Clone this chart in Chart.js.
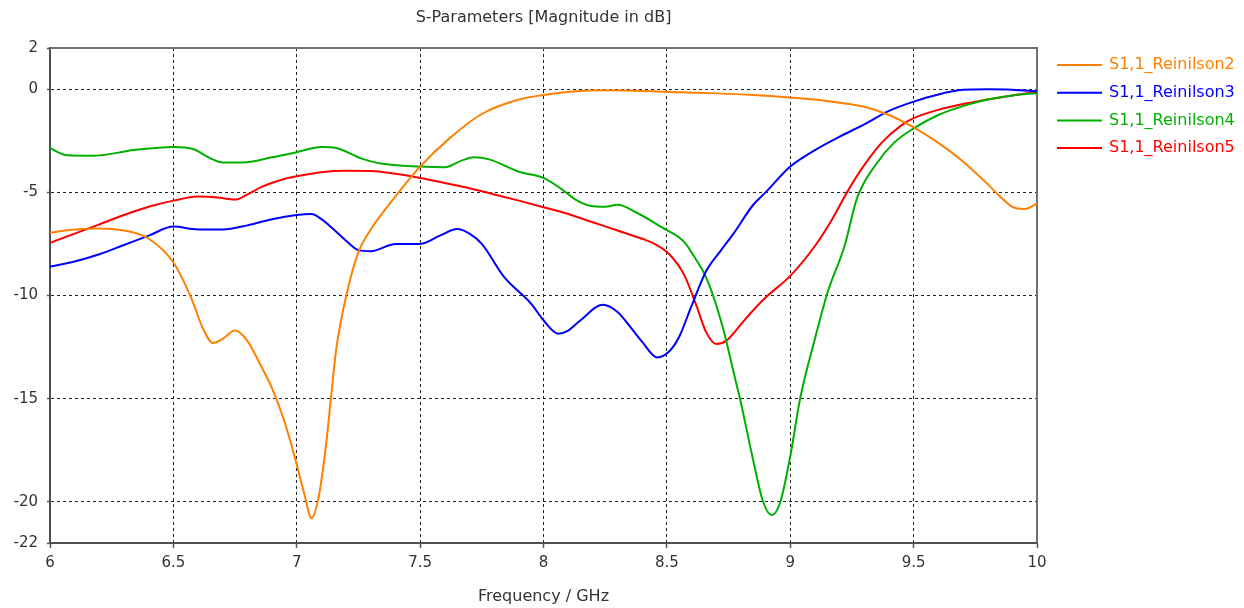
<!DOCTYPE html>
<html>
<head>
<meta charset="utf-8">
<title>S-Parameters</title>
<script src="https://cdn.jsdelivr.net/npm/chart.js@4.4.1/dist/chart.umd.min.js"></script>
<style>
    html, body { margin: 0; padding: 0; background: #ffffff; }
    #wrap { width: 1244px; height: 608px; }
</style>
</head>
<body>
<div id="wrap"><canvas id="sparams" width="1244" height="608"></canvas></div>
<script>
// S1,1 magnitude (dB) vs frequency (GHz) for four antenna variants
const freqReinilson2 = [6.0, 6.1, 6.2, 6.3, 6.4, 6.5, 6.57, 6.62, 6.66, 6.7, 6.75, 6.8, 6.85, 6.9, 6.95, 7.0, 7.03, 7.06, 7.09, 7.12, 7.14, 7.16, 7.2, 7.25, 7.3, 7.38, 7.5, 7.62, 7.75, 7.9, 8.0, 8.13, 8.25, 8.4, 8.55, 8.7, 8.85, 9.0, 9.1, 9.2, 9.3, 9.4, 9.5, 9.6, 9.7, 9.8, 9.85, 9.9, 9.95, 10.0];
const s11Reinilson2 = [-6.95, -6.8, -6.75, -6.85, -7.25, -8.4, -10.05, -11.6, -12.3, -12.1, -11.7, -12.2, -13.3, -14.5, -16.1, -18.2, -19.6, -20.8, -19.7, -17.1, -14.8, -12.6, -10.05, -7.9, -6.8, -5.5, -3.75, -2.37, -1.2, -0.5, -0.28, -0.1, -0.05, -0.08, -0.15, -0.2, -0.28, -0.4, -0.5, -0.65, -0.85, -1.25, -1.85, -2.6, -3.5, -4.6, -5.2, -5.7, -5.8, -5.55];

const freqReinilson3 = [6.0, 6.1, 6.2, 6.3, 6.4, 6.5, 6.6, 6.7, 6.8, 6.9, 7.0, 7.06, 7.1, 7.15, 7.2, 7.25, 7.3, 7.4, 7.5, 7.58, 7.65, 7.7, 7.75, 7.84, 7.95, 8.0, 8.06, 8.1, 8.15, 8.24, 8.3, 8.35, 8.4, 8.46, 8.51, 8.55, 8.6, 8.66, 8.72, 8.77, 8.85, 8.9, 9.0, 9.1, 9.2, 9.3, 9.4, 9.5, 9.6, 9.7, 9.8, 9.9, 10.0];
const s11Reinilson3 = [-8.6, -8.35, -8.0, -7.55, -7.1, -6.66, -6.8, -6.8, -6.6, -6.3, -6.1, -6.05, -6.3, -6.8, -7.35, -7.8, -7.85, -7.5, -7.5, -7.1, -6.78, -7.0, -7.5, -9.1, -10.4, -11.2, -11.85, -11.7, -11.2, -10.45, -10.8, -11.5, -12.25, -13.0, -12.7, -12.0, -10.5, -8.8, -7.8, -7.0, -5.6, -5.0, -3.75, -2.95, -2.3, -1.7, -1.05, -0.6, -0.25, -0.03, 0.0, -0.02, -0.1];

const freqReinilson4 = [6.0, 6.07, 6.18, 6.34, 6.5, 6.58, 6.65, 6.7, 6.78, 6.9, 7.0, 7.1, 7.16, 7.26, 7.34, 7.5, 7.6, 7.67, 7.72, 7.78, 7.9, 8.0, 8.08, 8.13, 8.19, 8.25, 8.3, 8.38, 8.48, 8.57, 8.61, 8.65, 8.68, 8.73, 8.77, 8.8, 8.85, 8.89, 8.925, 8.96, 9.0, 9.04, 9.1, 9.15, 9.22, 9.27, 9.35, 9.42, 9.5, 9.6, 9.7, 9.8, 9.9, 10.0];
const s11Reinilson4 = [-2.86, -3.2, -3.22, -2.95, -2.8, -2.9, -3.35, -3.55, -3.55, -3.3, -3.05, -2.8, -2.85, -3.35, -3.6, -3.75, -3.78, -3.45, -3.3, -3.4, -4.0, -4.3, -4.9, -5.35, -5.65, -5.7, -5.6, -6.0, -6.7, -7.4, -8.1, -8.9, -9.75, -11.7, -13.7, -15.2, -18.0, -20.0, -20.65, -20.0, -17.8, -15.0, -12.1, -9.9, -7.6, -5.3, -3.6, -2.6, -1.9, -1.25, -0.82, -0.5, -0.3, -0.19];

const freqReinilson5 = [6.0, 6.1, 6.2, 6.3, 6.4, 6.5, 6.6, 6.68, 6.75, 6.8, 6.86, 6.95, 7.0, 7.1, 7.2, 7.3, 7.4, 7.5, 7.6, 7.7, 7.8, 7.9, 8.0, 8.1, 8.2, 8.3, 8.4, 8.45, 8.51, 8.57, 8.62, 8.66, 8.7, 8.74, 8.8, 8.84, 8.9, 9.0, 9.1, 9.17, 9.23, 9.29, 9.37, 9.45, 9.5, 9.6, 9.7, 9.8, 9.9, 10.0];
const s11Reinilson5 = [-7.45, -7.0, -6.55, -6.1, -5.7, -5.4, -5.2, -5.25, -5.35, -5.1, -4.72, -4.35, -4.22, -4.02, -3.95, -3.96, -4.1, -4.3, -4.55, -4.8, -5.1, -5.4, -5.72, -6.05, -6.45, -6.85, -7.25, -7.5, -8.0, -9.0, -10.5, -11.8, -12.35, -12.2, -11.4, -10.85, -10.1, -9.05, -7.6, -6.3, -5.0, -3.85, -2.6, -1.75, -1.4, -1.0, -0.72, -0.5, -0.3, -0.12];

const seriesNames = ['S1,1_Reinilson2', 'S1,1_Reinilson3', 'S1,1_Reinilson4', 'S1,1_Reinilson5'];
const seriesColors = ['#ff8000', '#0000ff', '#00b000', '#ff0000'];
const yTickValues = [2, 0, -5, -10, -15, -20, -22];

const FONT = 'DejaVu Sans';

function toPoints(freqs, values) {
    return freqs.map((f, i) => ({ x: f, y: values[i] }));
}

const seriesData = [
    toPoints(freqReinilson2, s11Reinilson2),
    toPoints(freqReinilson3, s11Reinilson3),
    toPoints(freqReinilson4, s11Reinilson4),
    toPoints(freqReinilson5, s11Reinilson5)
];

const datasets = seriesNames.map((name, i) => ({
    label: name,
    data: seriesData[i],
    borderColor: seriesColors[i],
    backgroundColor: seriesColors[i],
    borderWidth: 2,
    pointRadius: 0,
    fill: false,
    cubicInterpolationMode: 'monotone'
}));

// title above the plot, frame on top/right, and the legend to the right
const decorations = {
    id: 'decorations',
    beforeDatasetsDraw(chart) {
        const { ctx, chartArea: a } = chart;
        ctx.save();
        ctx.strokeStyle = '#707070';
        ctx.lineWidth = 2;
        ctx.beginPath();
        ctx.moveTo(a.left, a.top);
        ctx.lineTo(a.right, a.top);
        ctx.lineTo(a.right, a.bottom);
        ctx.stroke();
        ctx.restore();
    },
    afterDraw(chart) {
        const { ctx, chartArea: a } = chart;
        ctx.save();
        ctx.fillStyle = '#333333';
        ctx.font = '16px "' + FONT + '"';
        ctx.textAlign = 'center';
        ctx.textBaseline = 'middle';
        ctx.fillText('S-Parameters [Magnitude in dB]', (a.left + a.right) / 2, 18);

        ctx.textAlign = 'left';
        chart.data.datasets.forEach((ds, i) => {
            const y = 65 + i * 27.7;
            ctx.strokeStyle = ds.borderColor;
            ctx.lineWidth = 2;
            ctx.beginPath();
            ctx.moveTo(1057, y);
            ctx.lineTo(1102, y);
            ctx.stroke();
            ctx.fillStyle = ds.borderColor;
            ctx.fillText(ds.label, 1109, y);
        });
        ctx.restore();
    }
};

new Chart(document.getElementById('sparams'), {
    type: 'line',
    data: { datasets: datasets },
    options: {
        responsive: false,
        animation: false,
        layout: { padding: { left: 0, right: 207, top: 48, bottom: 0 } },
        plugins: {
            legend: { display: false },
            title: { display: false },
            tooltip: { enabled: false }
        },
        scales: {
            x: {
                type: 'linear',
                min: 6,
                max: 10,
                afterFit: (scale) => { scale.height = 65; },
                ticks: {
                    stepSize: 0.5,
                    color: '#333333',
                    padding: 6,
                    font: { family: FONT, size: 15 },
                    maxRotation: 0,
                    callback: (v) => String(Math.round(v * 10) / 10)
                },
                grid: {
                    color: (ctx) => (ctx.tick && (ctx.tick.value === 6 || ctx.tick.value === 10)) ? 'rgba(0,0,0,0)' : '#222222',
                    lineWidth: 1,
                    tickLength: 5,
                    tickColor: '#555555',
                    tickWidth: 1.5
                },
                border: { display: true, color: '#505050', width: 2, dash: [3, 3] },
                title: {
                    display: true,
                    text: 'Frequency / GHz',
                    color: '#333333',
                    font: { family: FONT, size: 16 },
                    padding: { top: 0, bottom: 2 }
                }
            },
            y: {
                type: 'linear',
                min: -22,
                max: 2,
                afterFit: (scale) => { scale.width = 50; },
                afterBuildTicks: (scale) => { scale.ticks = yTickValues.map(v => ({ value: v })); },
                ticks: {
                    color: '#333333',
                    padding: 9,
                    font: { family: FONT, size: 15 }
                },
                grid: {
                    color: (ctx) => (ctx.tick && (ctx.tick.value === 2 || ctx.tick.value === -22)) ? 'rgba(0,0,0,0)' : '#222222',
                    lineWidth: 1,
                    tickLength: 3,
                    tickColor: '#555555',
                    tickWidth: 1.5
                },
                border: { display: true, color: '#505050', width: 2, dash: [3, 3] }
            }
        }
    },
    plugins: [decorations]
});
</script>
</body>
</html>
